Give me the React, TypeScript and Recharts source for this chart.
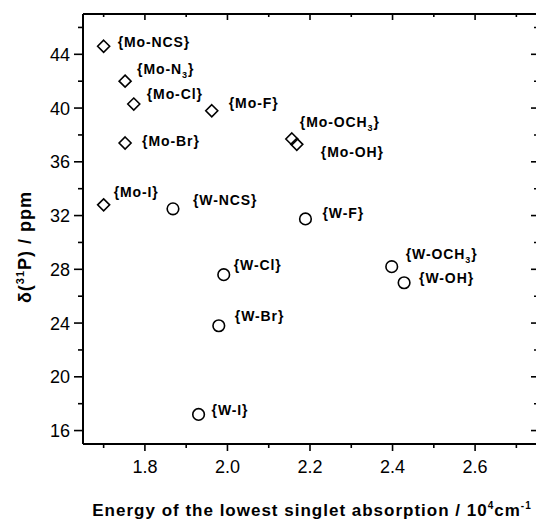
import React from "react";
import { ScatterChart, Scatter, XAxis, YAxis } from "recharts";

// Mo complexes (diamonds)
const moNames = ["{Mo-NCS}", "{Mo-N3}", "{Mo-Cl}", "{Mo-F}", "{Mo-Br}", "{Mo-I}", "{Mo-OCH3}", "{Mo-OH}"];
const moEnergy = [1.7, 1.752, 1.773, 1.962, 1.752, 1.7, 2.156, 2.168];
const moShift = [44.6, 42.0, 40.3, 39.8, 37.4, 32.8, 37.7, 37.3];

// W complexes (circles)
const wNames = ["{W-NCS}", "{W-F}", "{W-Cl}", "{W-Br}", "{W-I}", "{W-OCH3}", "{W-OH}"];
const wEnergy = [1.868, 2.189, 1.991, 1.979, 1.93, 2.398, 2.428];
const wShift = [32.5, 31.75, 27.6, 23.8, 17.2, 28.2, 27.0];

const xTicks = [1.7, 1.8, 1.9, 2.0, 2.1, 2.2, 2.3, 2.4, 2.5, 2.6, 2.7];
const yTicks = [16, 18, 20, 22, 24, 26, 28, 30, 32, 34, 36, 38, 40, 42, 44, 46];

// label placement relative to the marker (dx, dy)
const moLabelOffsets = [[14, -4], [12, -12], [13, -10], [17, -8], [17, -2], [10, -13], [8, -17], [24, 8]];
const wLabelOffsets = [[20, -9], [17, -6], [10, -10], [16, -10], [13, -4], [14, -13], [15, -5]];

const moData = moNames.map((name, i) => ({ name, x: moEnergy[i], y: moShift[i], off: moLabelOffsets[i] }));
const wData = wNames.map((name, i) => ({ name, x: wEnergy[i], y: wShift[i], off: wLabelOffsets[i] }));

const FONT = "'Liberation Sans', Arial, sans-serif";

function renderName(name: string) {
  const parts = name.split(/(\d)/);
  let sub = false;
  return parts.map((p, i) => {
    if (/^\d$/.test(p)) {
      sub = true;
      return (
        <tspan key={i} dy={4} fontSize={9}>
          {p}
        </tspan>
      );
    }
    const el = (
      <tspan key={i} dy={sub ? -4 : 0}>
        {p}
      </tspan>
    );
    sub = false;
    return el;
  });
}

function PointLabel({ cx, cy, payload }: any) {
  return (
    <text
      x={cx + payload.off[0]}
      y={cy + payload.off[1] + 5}
      fontFamily={FONT}
      fontWeight="bold"
      fontSize={14}
      letterSpacing={0.9}
      fill="#000"
    >
      {renderName(payload.name)}
    </text>
  );
}

const Diamond = (props: any) => {
  const { cx, cy } = props;
  const r = 6;
  return (
    <g>
      <path
        d={`M${cx},${cy - r}L${cx + r},${cy}L${cx},${cy + r}L${cx - r},${cy}Z`}
        fill="none"
        stroke="#000"
        strokeWidth={1.6}
      />
      <PointLabel {...props} />
    </g>
  );
};

const Ring = (props: any) => {
  const { cx, cy } = props;
  return (
    <g>
      <circle cx={cx} cy={cy} r={5.8} fill="none" stroke="#000" strokeWidth={1.6} />
      <PointLabel {...props} />
    </g>
  );
};

const isMajorX = (v: number) => Math.round(v * 10) % 2 === 0;
const isMajorY = (v: number) => v % 4 === 0;

const BottomTick = ({ x, y, payload }: any) => {
  const major = isMajorX(payload.value);
  return (
    <g>
      <line x1={x} y1={y} x2={x} y2={y + (major ? 7 : 4)} stroke="#000" strokeWidth={1.6} />
      {major && (
        <text x={x} y={y + 29} textAnchor="middle" fontFamily={FONT} fontSize={18} fill="#000">
          {payload.value.toFixed(1)}
        </text>
      )}
    </g>
  );
};

const TopTick = ({ x, y, payload }: any) => {
  const major = isMajorX(payload.value);
  return <line x1={x} y1={y} x2={x} y2={y + (major ? 6 : 3)} stroke="#000" strokeWidth={1.6} />;
};

const LeftTick = ({ x, y, payload }: any) => {
  const major = isMajorY(payload.value);
  return (
    <g>
      <line x1={x} y1={y} x2={x - (major ? 9 : 5)} y2={y} stroke="#000" strokeWidth={1.6} />
      {major && (
        <text x={x - 13} y={y + 6.5} textAnchor="end" fontFamily={FONT} fontSize={18} fill="#000">
          {payload.value}
        </text>
      )}
    </g>
  );
};

const RightTick = ({ x, y, payload }: any) => {
  const major = isMajorY(payload.value);
  return <line x1={x} y1={y} x2={x - (major ? 6 : 3)} y2={y} stroke="#000" strokeWidth={1.6} />;
};

const XTitle = () => (
  <text
    x={312}
    y={516}
    textAnchor="middle"
    fontFamily={FONT}
    fontWeight="bold"
    fontSize={17}
    letterSpacing={1}
    fill="#000"
  >
    Energy of the lowest singlet absorption / 10
    <tspan dy={-7} fontSize={10}>4</tspan>
    <tspan dy={7}>cm</tspan>
    <tspan dy={-7} fontSize={10}>-1</tspan>
  </text>
);

const YTitle = () => (
  <text
    x={31}
    y={247}
    transform="rotate(-90 31 247)"
    textAnchor="middle"
    fontFamily={FONT}
    fontWeight="bold"
    fontSize={18}
    letterSpacing={1}
    fill="#000"
  >
    δ(
    <tspan dy={-7} fontSize={11}>31</tspan>
    <tspan dy={7}>P) / ppm</tspan>
  </text>
);

export default function App() {
  return (
    <div style={{ position: "absolute", left: 0, top: 0, width: 536, height: 521, overflow: "hidden", background: "#fff" }}>
      <ScatterChart width={540} height={521} margin={{ top: 13, right: 2, bottom: 76, left: 82 }}>
        <XAxis
          xAxisId="b"
          type="number"
          dataKey="x"
          orientation="bottom"
          domain={[1.65, 2.75]}
          ticks={xTicks}
          interval={0}
          allowDataOverflow
          height={1}
          tickSize={0}
          tickMargin={0}
          tickLine={false}
          tick={<BottomTick />}
          stroke="#000"
          strokeWidth={2}
          label={{ content: <XTitle /> }}
        />
        <XAxis
          xAxisId="t"
          type="number"
          dataKey="x"
          orientation="top"
          domain={[1.65, 2.75]}
          ticks={xTicks}
          interval={0}
          allowDataOverflow
          height={1}
          tickSize={0}
          tickMargin={0}
          tickLine={false}
          tick={<TopTick />}
          stroke="#000"
          strokeWidth={2}
        />
        <YAxis
          yAxisId="l"
          type="number"
          dataKey="y"
          domain={[15, 47]}
          ticks={yTicks}
          interval={0}
          allowDataOverflow
          width={1}
          tickSize={0}
          tickMargin={0}
          tickLine={false}
          tick={<LeftTick />}
          stroke="#000"
          strokeWidth={2}
          label={{ content: <YTitle /> }}
        />
        <YAxis
          yAxisId="r"
          type="number"
          dataKey="y"
          orientation="right"
          domain={[15, 47]}
          ticks={yTicks}
          interval={0}
          allowDataOverflow
          width={1}
          tickSize={0}
          tickMargin={0}
          tickLine={false}
          tick={<RightTick />}
          stroke="#000"
          strokeWidth={2}
        />
        <Scatter xAxisId="b" yAxisId="l" data={moData} shape={Diamond} isAnimationActive={false} />
        <Scatter xAxisId="b" yAxisId="l" data={wData} shape={Ring} isAnimationActive={false} />
      </ScatterChart>
    </div>
  );
}
